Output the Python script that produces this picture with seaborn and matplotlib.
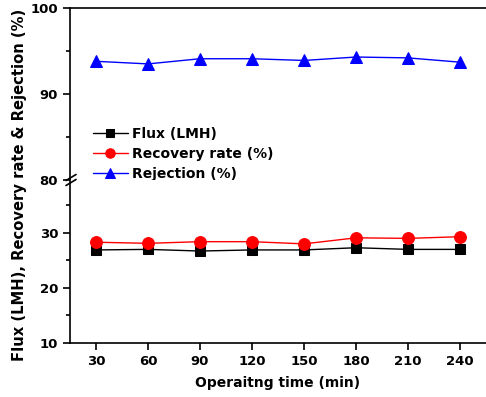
import numpy as np
import pandas as pd
import seaborn as sns
import matplotlib.pyplot as plt

sns.set_style('white')
plt.rcParams['font.family'] = ['DejaVu Sans']
plt.rcParams['font.weight'] = 'bold'
plt.rcParams['text.color'] = 'black'
plt.rcParams['axes.edgecolor'] = 'black'
plt.rcParams['xtick.color'] = 'black'
plt.rcParams['ytick.color'] = 'black'

# data
time = [30, 60, 90, 120, 150, 180, 210, 240]
flux = [26.9, 27.0, 26.7, 26.9, 26.9, 27.3, 27.0, 27.0]
recovery = [28.3, 28.1, 28.4, 28.4, 28.0, 29.1, 29.0, 29.3]
rejection = [93.8, 93.5, 94.1, 94.1, 93.9, 94.3, 94.2, 93.7]

df = pd.DataFrame({'time': time, 'Flux (LMH)': flux,
                   'Recovery rate (%)': recovery, 'Rejection (%)': rejection})

series = [('Flux (LMH)', 'black', 's', 7.5),
          ('Recovery rate (%)', 'red', 'o', 8.5),
          ('Rejection (%)', 'blue', '^', 8.5)]

W, H = 486, 397
fig = plt.figure(figsize=(W / 100, H / 100), dpi=100)
left = 70 / W
ax_top = fig.add_axes([left, (H - 180) / H, 1 - left, 172 / H])
ax_bot = fig.add_axes([left, (H - 343) / H, 1 - left, 163 / H])

for ax in (ax_top, ax_bot):
    for name, c, m, ms in series:
        sns.lineplot(data=df, x='time', y=name, ax=ax, color=c, marker=m,
                     markersize=ms, markeredgecolor=c, linewidth=1,
                     label=name if ax is ax_top else None)
    ax.set_xlim(15, 255)
    ax.set_xlabel('')
    ax.set_ylabel('')
    ax.spines['right'].set_visible(False)
    for s in ax.spines.values():
        s.set_linewidth(1.2)
    ax.tick_params(axis='both', which='major', direction='out', length=5,
                   width=1.2, labelsize=9.5, left=True, bottom=True)
    ax.tick_params(axis='y', which='minor', direction='out', length=3,
                   width=1.2, left=True)

ax_top.set_ylim(80, 100)
ax_top.set_yticks([80, 90, 100])
ax_top.set_yticks([85, 95], minor=True)
ax_top.spines['bottom'].set_visible(False)
ax_top.tick_params(axis='x', which='both', bottom=False, labelbottom=False)

ax_bot.set_ylim(10, 39.6)
ax_bot.set_yticks([10, 20, 30])
ax_bot.set_yticks([15, 25, 35], minor=True)
ax_bot.spines['top'].set_visible(False)
ax_bot.set_xticks(time)

for ax in (ax_top, ax_bot):
    for lab in ax.get_xticklabels() + ax.get_yticklabels():
        lab.set_fontweight('bold')

# break marks on the left spine
for dy in (-2.5, 2.5):
    fig.add_artist(plt.Line2D([66 / W, 76 / W],
                              [(H - 180 + dy - 3) / H, (H - 180 + dy + 3) / H],
                              color='black', linewidth=1.2))

leg = ax_top.legend(loc='upper left', bbox_to_anchor=(93 / W, (H - 127) / H),
                    bbox_transform=fig.transFigure, frameon=False,
                    prop={'weight': 'bold', 'size': 10}, handlelength=2.5,
                    handletextpad=0.3, labelspacing=0.42, borderpad=0,
                    borderaxespad=0, markerscale=0.8)

fig.text(20 / W, (H - 185) / H, 'Flux (LMH), Recovery rate & Rejection (%)',
         rotation=90, ha='center', va='center', fontsize=10.6, fontweight='bold')
fig.text(278 / W, (H - 383) / H, 'Operaitng time (min)', ha='center',
         va='center', fontsize=10, fontweight='bold')

fig.savefig('out.png', dpi=100)
